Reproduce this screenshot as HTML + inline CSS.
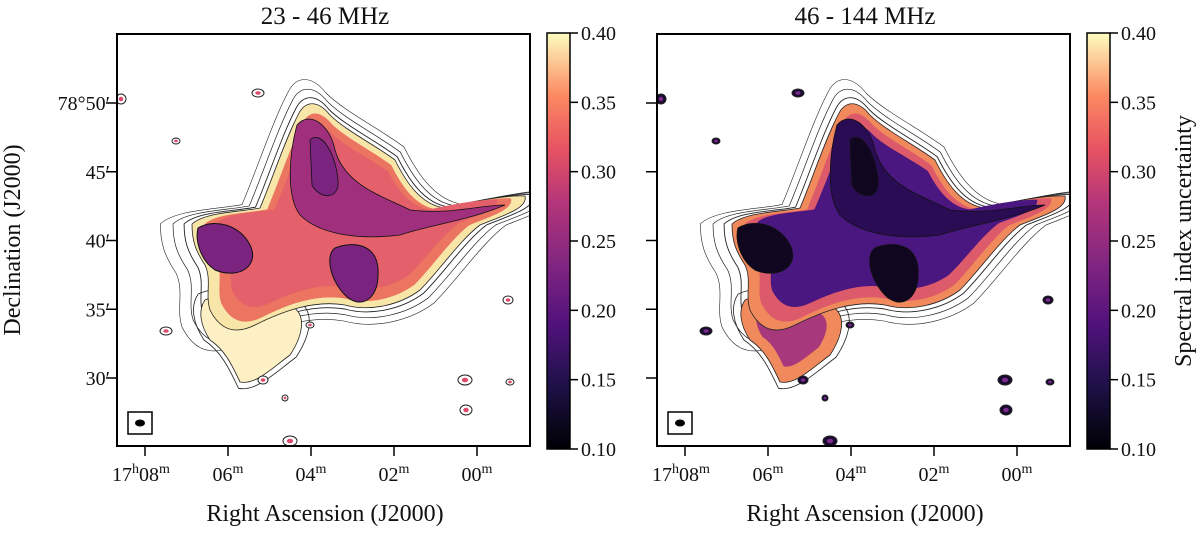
<!DOCTYPE html>
<html><head><meta charset="utf-8"><style>
body{margin:0;background:#fff;width:1200px;height:530px;overflow:hidden}
svg text{font-family:"Liberation Serif",serif;fill:#111}
</style></head><body>
<svg id="fig" width="1200" height="530" viewBox="0 0 1200 530" xmlns="http://www.w3.org/2000/svg">
<defs>
<linearGradient id="magma" x1="0" y1="1" x2="0" y2="0">
<stop offset="0" stop-color="#000004"/><stop offset="0.15" stop-color="#1d1147"/>
<stop offset="0.3" stop-color="#51127c"/><stop offset="0.45" stop-color="#832681"/>
<stop offset="0.6" stop-color="#b73779"/><stop offset="0.72" stop-color="#e75263"/>
<stop offset="0.85" stop-color="#fc8961"/><stop offset="1" stop-color="#fcfdbf"/>
</linearGradient>
<clipPath id="clipL"><rect x="117" y="34" width="413" height="412"/></clipPath>
<clipPath id="clipR"><rect x="657" y="34" width="413" height="412"/></clipPath>
<path id="blob" d="M192,224 C205,212 240,212 260,208 C272,180 285,140 298,115 C305,100 318,100 330,115 C345,130 375,145 395,160 C405,180 420,205 445,208 C470,202 505,195 525,196 C528,208 505,215 480,225 C460,240 440,270 420,290 C400,305 370,312 345,305 C315,300 285,310 255,325 C235,335 220,330 210,310 C205,295 212,280 205,265 C195,250 192,240 192,224 Z"/>
<path id="lower" d="M205,300 C225,290 260,300 290,305 C310,315 300,340 290,355 C270,370 255,385 240,382 C232,365 225,350 210,340 C200,325 198,310 205,300 Z"/>
</defs>
<g id="panels"></g>
</svg>
<script>
const raTicks=["17<tspan dy='-8' font-size='14'>h</tspan><tspan dy='8'>08</tspan><tspan dy='-8' font-size='14'>m</tspan>","06<tspan dy='-8' font-size='14'>m</tspan>","04<tspan dy='-8' font-size='14'>m</tspan>","02<tspan dy='-8' font-size='14'>m</tspan>","00<tspan dy='-8' font-size='14'>m</tspan>"];
const raTickPos=[0,1,2,3,4];
const decTicks=["78°50′","45′","40′","35′","30′"];
const decTickVals=[50,45,40,35,30];
const cbTicks=[0.10,0.15,0.20,0.25,0.30,0.35,0.40];
const titles=["23 - 46 MHz","46 - 144 MHz"];
const ns="http://www.w3.org/2000/svg";
const G=document.getElementById('panels');
function el(t,a,p){const e=document.createElementNS(ns,t);for(const k in a)e.setAttribute(k,a[k]);(p||G).appendChild(e);return e;}
const xTick=i=>145+i*83;
const yDec=v=>103+(50-v)*13.75;
const cbY=v=>449-(v-0.10)/0.30*416;
const srcs=[[258,93,6,4],[176,141,4,3],[121,99,5,5],[508,300,5,4],[166,331,6,4],[465,380,7,5],[466,410,6,5],[310,325,4,3],[263,380,5,4],[285,398,3,3],[290,441,7,5],[510,382,4,3]];
for(let p=0;p<2;p++){
  const dx=p*540, x0=117+dx, g=el('g',{});
  
  
  const img=el('g',{'clip-path':p?'url(#clipR)':'url(#clipL)'},g);
  
  
  const t=`translate(${dx},0)`;
  [[1.2,0.6],[1.12,0.7],[1.05,0.9]].forEach(([s,w])=>{
    el('use',{href:'#blob',transform:`${t} translate(350,225) scale(${s}) translate(-350,-225)`,fill:'none',stroke:'#222','stroke-width':w/s},img);
  });
  el('use',{href:'#lower',transform:`${t} translate(250,340) scale(1.15) translate(-250,-340)`,fill:'none',stroke:'#222','stroke-width':0.7},img);
  const edge=p?'#f08a5c':'#f7e6a8', body=p?'#4a1680':'#e4606a';
  el('use',{href:'#lower',transform:t,fill:p?'#f08a5c':'#fdf0c4',stroke:'#222','stroke-width':0.8},img);
  if(p) el('use',{href:'#lower',transform:`${t} translate(252,330) scale(0.7) translate(-252,-330)`,fill:'#a8387c'},img);
  el('use',{href:'#blob',transform:t,fill:edge,stroke:'#222','stroke-width':0.8},img);
  el('use',{href:'#blob',transform:`${t} translate(350,225) scale(0.92) translate(-350,-225)`,fill:p?'#dd5a6a':'#eb7560'},img);
  el('use',{href:'#blob',transform:`${t} translate(350,215) scale(0.84,0.8) translate(-350,-215)`,fill:body},img);
  const dark=p?'#10061f':'#7a2480', mid=p?'#2a0c55':'#a0307e';
  el('path',{d:`M${297+dx},125 C${310+dx},110 ${330+dx},125 ${335+dx},150 C${345+dx},185 ${380+dx},195 ${410+dx},210 C${450+dx},215 ${480+dx},205 ${505+dx},205 C${470+dx},220 ${430+dx},225 ${400+dx},235 C${360+dx},240 ${320+dx},235 ${300+dx},215 C${285+dx},195 ${290+dx},150 ${297+dx},125 Z`,fill:mid,stroke:'#111','stroke-width':0.8},img);
  el('path',{d:`M${198+dx},228 C${215+dx},218 ${240+dx},225 ${250+dx},245 C${260+dx},265 ${240+dx},280 ${215+dx},270 C${200+dx},260 ${195+dx},240 ${198+dx},228 Z`,fill:dark,stroke:'#111','stroke-width':1},img);
  el('path',{d:`M${335+dx},248 C${355+dx},240 ${380+dx},245 ${378+dx},275 C${378+dx},300 ${360+dx},310 ${345+dx},295 C${330+dx},280 ${325+dx},255 ${335+dx},248 Z`,fill:dark,stroke:'#111','stroke-width':1},img);
  el('path',{d:`M${310+dx},140 C${320+dx},130 ${335+dx},150 ${338+dx},180 C${340+dx},200 ${320+dx},200 ${312+dx},185 Z`,fill:dark,stroke:'#111','stroke-width':0.8},img);
  srcs.forEach(([x,y,rx,ry])=>{
    const s=el('ellipse',{cx:x+dx,cy:y,rx:rx,ry:ry,fill:p?'#1a0a30':'#fff',stroke:'#222','stroke-width':1},img);
    
    
    el('ellipse',{cx:x+dx,cy:y,rx:rx*0.45,ry:ry*0.45,fill:p?'#7a2a8a':'#e04a6a'},img);
  });
  const bm=el('rect',{x:128+dx,y:412,width:24,height:22,fill:'none',stroke:'#000','stroke-width':1.5},g);
  
  
  el('ellipse',{cx:140+dx,cy:423,rx:5,ry:3.5,fill:'#000'},g);
  const fr=el('rect',{x:x0,y:34,width:413,height:412,fill:'none',stroke:'#000','stroke-width':2},g);
  
  
  const tt=el('text',{x:325+dx,y:24,'text-anchor':'middle','font-size':25},g);tt.textContent=titles[p];
  
  
  raTickPos.forEach((v,i)=>{
    const x=xTick(v)+dx;
    el('line',{x1:x,y1:446,x2:x,y2:456,stroke:'#000','stroke-width':1.5},g);
    const l=el('text',{x:x-(i==0?4:0),y:481,'text-anchor':'middle','font-size':20},g);l.innerHTML=raTicks[i];
    
    
  });
  const xl=el('text',{x:325+dx,y:521,'text-anchor':'middle','font-size':24},g);xl.textContent='Right Ascension (J2000)';
  
  
  decTickVals.forEach((v,i)=>{
    const y=yDec(v);
    el('line',{x1:x0-11,y1:y,x2:x0,y2:y,stroke:'#000','stroke-width':1.5},g);
    if(p==0){const l=el('text',{x:110,y:y+7,'text-anchor':'end','font-size':20},g);l.textContent=decTicks[i];
      
      }
  });
  const cx=547+dx;
  const cb=el('rect',{x:cx,y:33,width:23,height:416,fill:'url(#magma)',stroke:'#000','stroke-width':1.5},g);
  
  
  cbTicks.forEach(v=>{
    const y=cbY(v);
    el('line',{x1:cx+23,y1:y,x2:cx+31,y2:y,stroke:'#000','stroke-width':1.5},g);
    const l=el('text',{x:cx+34,y:y+7,'font-size':20},g);l.textContent=v.toFixed(2);
    
    
  });
}
const yl=el('text',{x:20,y:240,'text-anchor':'middle','font-size':24,transform:'rotate(-90 20 240)'});yl.textContent='Declination (J2000)';


const cl=el('text',{x:1191,y:241,'text-anchor':'middle','font-size':24,transform:'rotate(-90 1191 241)'});cl.textContent='Spectral index uncertainty';


</script>
</body></html>
